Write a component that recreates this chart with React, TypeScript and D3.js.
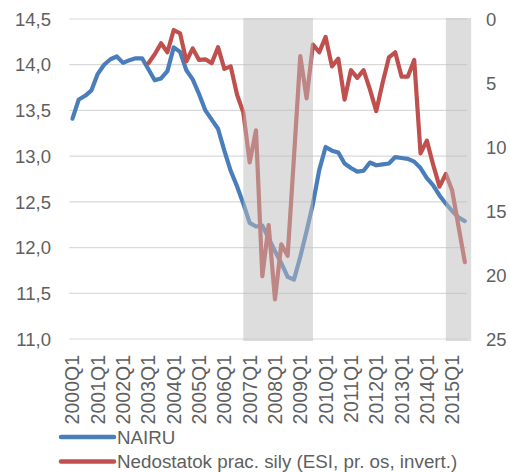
import { useEffect, useRef } from 'react';
import * as d3 from 'd3';

// quarters 2000Q1 .. 2015Q3
const QUARTERS: string[] = d3.range(2000, 2016).flatMap((y) => [1, 2, 3, 4].map((q) => `${y}Q${q}`)).slice(0, 63);

const NAIRU = [
  13.41, 13.62, 13.66, 13.72, 13.9, 14.0, 14.06, 14.09,
  14.02, 14.05, 14.07, 14.07, 13.95, 13.83, 13.85, 13.93,
  14.19, 14.14, 13.94, 13.84, 13.68, 13.5, 13.4, 13.3,
  13.06, 12.84, 12.67, 12.48, 12.27, 12.23, 12.24, 12.1,
  11.96, 11.83, 11.68, 11.65, 11.9, 12.18, 12.48, 12.85,
  13.1, 13.06, 13.04, 12.92, 12.87, 12.83, 12.84, 12.93,
  12.9, 12.91, 12.92, 12.99, 12.98, 12.97, 12.94, 12.87,
  12.76, 12.68, 12.57, 12.48, 12.4, 12.33, 12.29,
];

// ESI labour shortage, right axis (inverted); data starts 2003Q1
const SHORTAGE: (number | null)[] = [
  null, null, null, null, null, null, null, null,
  null, null, null, null, 3.46, 2.75, 1.9, 2.6,
  0.86, 1.12, 3.3, 2.3, 3.2, 3.15, 3.45, 2.2,
  3.9, 3.7, 5.9, 7.3, 11.2, 8.7, 20.1, 16.1,
  21.9, 17.6, 18.5, 10.8, 2.9, 6.2, 2.0, 2.6,
  1.4, 3.7, 3.1, 6.3, 4.0, 4.6, 4.0, 5.5,
  7.2, 5.0, 3.0, 2.6, 4.5, 4.5, 3.2, 10.5,
  9.5, 11.4, 13.1, 12.1, 13.4, 16.2, 19.0,
];

const LEFT_TICKS = [11, 11.5, 12, 12.5, 13, 13.5, 14, 14.5];
const RIGHT_TICKS = [0, 5, 10, 15, 20, 25];
const SHADED: [string, string][] = [['2006Q4', '2009Q3'], ['2014Q4', '2015Q4']];

const BLUE = '#4a7ebb';
const RED = '#c0504d';
const TEXT = '#5f5f5f';
const FONT = '"Liberation Sans", Arial, sans-serif';

function qIndex(label: string) {
  const [y, q] = label.split('Q').map(Number);
  return (y - 2000) * 4 + (q - 1);
}

export default function App() {
  const svgRef = useRef<SVGSVGElement>(null);

  useEffect(() => {
    const svg = d3.select(svgRef.current!);
    svg.selectAll('*').remove();

    const width = 510, height = 472;
    const margin = { top: 19, right: 42, bottom: 133, left: 69.3 };
    const plotR = width - margin.right;
    const plotB = height - margin.bottom;

    const x = d3.scaleBand().domain(QUARTERS).range([margin.left, plotR]).paddingInner(0);
    const bw = x.bandwidth();
    const cx = d3.scaleLinear().domain([0, QUARTERS.length - 1])
      .range([x(QUARTERS[0])! + bw / 2, x(QUARTERS[QUARTERS.length - 1])! + bw / 2]);
    const yL = d3.scaleLinear().domain([11, 14.5]).range([plotB, margin.top]);
    const yR = d3.scaleLinear().domain([0, 25]).range([margin.top, plotB]);

    // Grid lines
    svg.append('g').selectAll('line').data(LEFT_TICKS).join('line')
      .attr('x1', margin.left).attr('x2', plotR - 1)
      .attr('y1', (d) => yL(d)).attr('y2', (d) => yL(d))
      .attr('stroke', '#d9d9d9').attr('stroke-width', 1.2);

    // Lines
    const nairuLine = d3.line<number>().x((_, i) => cx(i)).y((d) => yL(d));
    svg.append('path').datum(NAIRU).attr('d', nairuLine)
      .attr('fill', 'none').attr('stroke', BLUE).attr('stroke-width', 4.2)
      .attr('stroke-linejoin', 'round').attr('stroke-linecap', 'round');

    const shortLine = d3.line<number | null>().defined((d) => d !== null)
      .x((_, i) => cx(i)).y((d) => yR(d as number));
    svg.append('path').datum(SHORTAGE).attr('d', shortLine)
      .attr('fill', 'none').attr('stroke', RED).attr('stroke-width', 4.2)
      .attr('stroke-linejoin', 'round').attr('stroke-linecap', 'round');

    // Shaded periods (drawn on top, semi-transparent)
    svg.append('g').selectAll('rect').data(SHADED).join('rect')
      .attr('x', (d) => cx(qIndex(d[0])))
      .attr('width', (d) => cx(qIndex(d[1])) - cx(qIndex(d[0])))
      .attr('y', margin.top - 1).attr('height', plotB - margin.top + 3)
      .attr('fill', '#bcbcbc').attr('opacity', 0.5);

    // Left axis labels
    svg.append('g').selectAll('text').data(LEFT_TICKS).join('text')
      .attr('x', 51).attr('y', (d) => yL(d)).attr('dy', '0.36em')
      .attr('text-anchor', 'end').attr('font-size', 18.5).attr('fill', TEXT).attr('font-family', FONT)
      .text((d) => d.toFixed(1).replace('.', ','));

    // Right axis labels
    svg.append('g').selectAll('text').data(RIGHT_TICKS).join('text')
      .attr('x', 486).attr('y', (d) => yR(d)).attr('dy', '0.36em')
      .attr('text-anchor', 'start').attr('font-size', 18.5).attr('fill', TEXT).attr('font-family', FONT)
      .text((d) => String(d));

    // X labels (every Q1)
    svg.append('g').selectAll('text').data(QUARTERS.filter((q) => q.endsWith('Q1'))).join('text')
      .attr('transform', (d) => `translate(${x(d)! + bw / 2},${plotB + 16}) rotate(-90)`)
      .attr('dy', '0.36em').attr('text-anchor', 'end')
      .attr('font-size', 19.5).attr('fill', TEXT).attr('font-family', FONT)
      .text((d) => d);

    // Legend
    const legend = [
      { label: 'NAIRU', color: BLUE },
      { label: 'Nedostatok prac. sily (ESI, pr. os, invert.)', color: RED },
    ];
    const lg = svg.append('g');
    legend.forEach((l, i) => {
      const ly = 437 + i * 24.5;
      lg.append('line').attr('x1', 61).attr('x2', 114).attr('y1', ly).attr('y2', ly)
        .attr('stroke', l.color).attr('stroke-width', 4.5).attr('stroke-linecap', 'round');
      lg.append('text').attr('x', 117).attr('y', ly).attr('dy', '0.36em')
        .attr('font-size', 18.8).attr('fill', TEXT).attr('font-family', FONT).text(l.label);
    });
  }, []);

  return (
    <svg ref={svgRef} width={510} height={472}
      style={{ position: 'absolute', left: 0, top: 0, background: '#fff' }} />
  );
}
